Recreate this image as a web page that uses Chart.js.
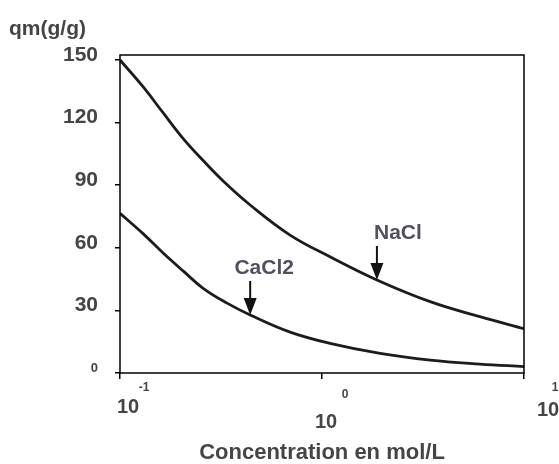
<!DOCTYPE html>
<html><head><meta charset="utf-8">
<script src="https://cdn.jsdelivr.net/npm/chart.js@4/dist/chart.umd.min.js"></script>
<style>html,body{margin:0;padding:0;background:#fff}#wrap{width:559px;height:464px;position:relative}</style>
</head><body><div id="wrap"><canvas id="c" width="559" height="464"></canvas></div>
<script>
// ---- data ----
const concNaCl  = [0.1, 0.13, 0.164, 0.206, 0.258, 0.324, 0.441, 0.695, 1.096, 1.87, 3.43, 6.05, 10];
const qmNaCl    = [150, 137.2, 124.5, 112.2, 101.8, 92.0, 80.5, 66.1, 55.7, 44.6, 34.2, 27.0, 21.2];
const concCaCl2 = [0.1, 0.13, 0.164, 0.206, 0.258, 0.337, 0.441, 0.695, 1.096, 1.94, 3.43, 6.05, 10];
const qmCaCl2   = [76.5, 66.8, 57.4, 48.8, 40.6, 33.6, 27.8, 19.6, 14.2, 9.4, 6.2, 4.3, 3.1];
const yTickValues = [0, 30, 60, 90, 120, 150];
const xTickValues = [0.1, 1, 10];
const xTickBase = ["10", "10", "10"];
const xTickExp  = ["-1", "0", "1"];
const noteNames = ["NaCl", "CaCl2"];
const noteX = [1.87, 0.441];
const noteY = [44.6, 27.8];
const yAxisTitle = "qm(g/g)";
const xAxisTitle = "Concentration en mol/L";

// ---- style ----
const FONT = "'Liberation Sans', Arial, sans-serif";
const TXT = '#454545';
const xLabelOffsets = [
  {dx: 8,  dy: 34, ex: 24, ey: 15},
  {dx: 4,  dy: 49, ex: 23, ey: 22},
  {dx: 24, dy: 37, ex: 31, ey: 15}
];
const noteTextDx = [21, 14];

const toPts = (xs, ys) => xs.map((x, i) => ({x: x, y: ys[i]}));

const decor = {
  id: 'decor',
  afterDatasetsDraw(chart) {
    const {ctx, chartArea: a, scales: {x, y}} = chart;
    ctx.save();
    // frame
    ctx.strokeStyle = '#000';
    ctx.lineWidth = 1.5;
    ctx.strokeRect(a.left, a.top, a.right - a.left, a.bottom - a.top);
    // x tick labels 10^n
    ctx.fillStyle = TXT;
    ctx.textAlign = 'center';
    ctx.textBaseline = 'middle';
    xTickValues.forEach((v, i) => {
      const px = x.getPixelForValue(v);
      const o = xLabelOffsets[i];
      ctx.font = 'bold 20px ' + FONT;
      ctx.fillText(xTickBase[i], px + o.dx, a.bottom + o.dy);
      ctx.font = 'bold 12px ' + FONT;
      ctx.fillText(xTickExp[i], px + o.ex, a.bottom + o.ey);
    });
    // y axis title
    ctx.font = 'bold 21px ' + FONT;
    ctx.textAlign = 'left';
    ctx.fillText(yAxisTitle, 9, 29);
    // annotations
    noteNames.forEach((n, i) => {
      const tx = x.getPixelForValue(noteX[i]);
      const ty = y.getPixelForValue(noteY[i]);
      ctx.strokeStyle = '#111';
      ctx.fillStyle = '#111';
      ctx.lineWidth = 2;
      ctx.beginPath();
      ctx.moveTo(tx, ty - 34);
      ctx.lineTo(tx, ty - 14);
      ctx.stroke();
      ctx.beginPath();
      ctx.moveTo(tx - 6.5, ty - 17);
      ctx.lineTo(tx + 6.5, ty - 17);
      ctx.lineTo(tx, ty);
      ctx.closePath();
      ctx.fill();
      ctx.fillStyle = '#50505e';
      ctx.font = 'bold 21px ' + FONT;
      ctx.textAlign = 'center';
      ctx.fillText(n, tx + noteTextDx[i], ty - 47);
    });
    ctx.restore();
  }
};

new Chart(document.getElementById('c'), {
  type: 'line',
  data: {
    datasets: [
      {label: 'NaCl', data: toPts(concNaCl, qmNaCl), borderColor: '#1c1c1c', borderWidth: 2.8,
       pointRadius: 0, tension: 0.4, fill: false},
      {label: 'CaCl2', data: toPts(concCaCl2, qmCaCl2), borderColor: '#1c1c1c', borderWidth: 2.8,
       pointRadius: 0, tension: 0.4, fill: false}
    ]
  },
  options: {
    responsive: false,
    animation: false,
    layout: {padding: {top: 55, right: 35, left: 0, bottom: 0}},
    plugins: {legend: {display: false}, tooltip: {enabled: false}},
    scales: {
      x: {
        type: 'logarithmic', min: 0.1, max: 10,
        afterBuildTicks: s => { s.ticks = xTickValues.map(v => ({value: v})); },
        afterFit: s => { s.height = 91; },
        ticks: {display: false},
        border: {display: false},
        grid: {display: true, drawOnChartArea: false, drawTicks: true, tickLength: 6, color: '#000', lineWidth: 1.5},
        title: {display: true, text: xAxisTitle, color: TXT, padding: {top: 0, bottom: 0},
                font: {family: FONT, size: 22, weight: 'bold', lineHeight: 1}}
      },
      y: {
        type: 'linear', min: 0, max: 152.4,
        afterBuildTicks: s => { s.ticks = yTickValues.map(v => ({value: v})); },
        afterFit: s => { s.width = 120; },
        border: {display: false},
        grid: {display: true, drawOnChartArea: false, drawTicks: true, tickLength: 5, color: '#000', lineWidth: 1.5},
        ticks: {
          color: TXT, padding: 17, labelOffset: -5,
          font: c => (c.tick && c.tick.value === 0) ? {family: FONT, size: 13, weight: 'bold'} : {family: FONT, size: 21, weight: 'bold'}
        }
      }
    }
  },
  plugins: [decor]
});
</script>
</body></html>
